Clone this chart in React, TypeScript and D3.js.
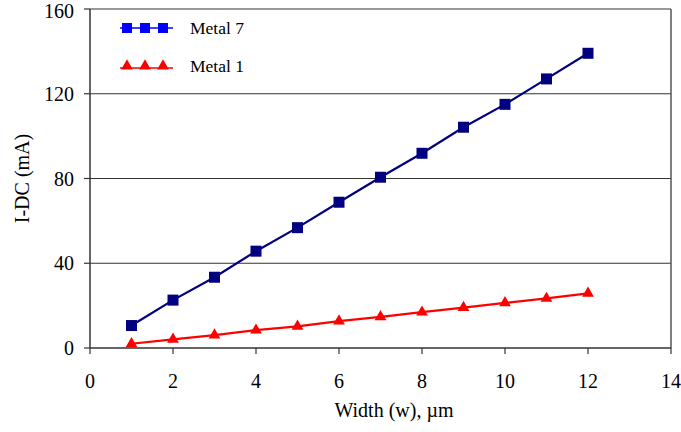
import React from "react";
import * as d3 from "d3";

const widths = [1, 2, 3, 4, 5, 6, 7, 8, 9, 10, 11, 12];
const metal7 = [10.6, 22.6, 33.4, 45.7, 56.8, 68.8, 80.6, 91.9, 104.2, 115.0, 127.0, 139.1];
const metal1 = [2.0, 4.1, 6.1, 8.4, 10.2, 12.7, 14.7, 16.9, 19.1, 21.3, 23.4, 25.8];
const xTicks = [0, 2, 4, 6, 8, 10, 12, 14];
const yTicks = [0, 40, 80, 120, 160];
const seriesNames = ["Metal 7", "Metal 1"];

const W = 681;
const H = 432;
const left = 90;
const right = 671;
const top = 9;
const bottom = 348;
const FONT = '"Liberation Serif", "DejaVu Serif", "Times New Roman", serif';

export default function App() {
  const x = d3.scaleLinear().domain([0, 14]).range([left, right]);
  const y = d3.scaleLinear().domain([0, 160]).range([bottom, top]);
  const line = d3
    .line<number>()
    .x((_, i) => x(widths[i]))
    .y((d) => y(d));
  const sq = 11;
  const tri = d3.symbol().type(d3.symbolTriangle).size(60)();
  const ts = (size: number) => ({ fontFamily: FONT, fontSize: size });

  return (
    <svg
      width={W}
      height={H}
      style={{ position: "absolute", left: 0, top: 0, background: "#fff", fontFamily: FONT }}
    >
      {yTicks.slice(1).map((t) => (
        <line key={t} x1={left} x2={right} y1={y(t)} y2={y(t)} stroke="#333" strokeWidth={1.2} />
      ))}
      <line x1={right} x2={right} y1={top} y2={bottom} stroke="#555" strokeWidth={1.5} />
      <line x1={left} x2={left} y1={top} y2={bottom} stroke="#333" strokeWidth={1.5} />
      <line x1={left} x2={right} y1={bottom} y2={bottom} stroke="#333" strokeWidth={1.5} />
      {yTicks.map((t) => (
        <g key={t}>
          <line x1={left - 6} x2={left} y1={y(t)} y2={y(t)} stroke="#333" strokeWidth={1.2} />
          <text x={74} y={Math.max(y(t), 11)} dy="0.35em" textAnchor="end" style={ts(20)} fill="#000">
            {t}
          </text>
        </g>
      ))}
      {xTicks.map((t) => (
        <g key={t}>
          <line x1={x(t)} x2={x(t)} y1={bottom} y2={bottom + 6} stroke="#333" strokeWidth={1.2} />
          <text x={x(t)} y={388} textAnchor="middle" style={ts(20)} fill="#000">
            {t}
          </text>
        </g>
      ))}
      <text x={394} y={417} textAnchor="middle" style={ts(20)} fill="#000">
        Width (w), µm
      </text>
      <text
        transform={`translate(29,${(top + bottom) / 2}) rotate(-90)`}
        textAnchor="middle"
        style={ts(20)}
        fill="#000"
      >
        I-DC (mA)
      </text>
      <path d={line(metal7) || ""} fill="none" stroke="#000080" strokeWidth={2.2} />
      {metal7.map((v, i) => (
        <rect
          key={i}
          x={x(widths[i]) - sq / 2}
          y={y(v) - sq / 2}
          width={sq}
          height={sq}
          fill="#000080"
        />
      ))}
      <path d={line(metal1) || ""} fill="none" stroke="#ff0000" strokeWidth={2.2} />
      {metal1.map((v, i) => (
        <path key={i} d={tri || ""} transform={`translate(${x(widths[i])},${y(v)})`} fill="#ff0000" />
      ))}
      <g>
        <line x1={120} x2={173} y1={28} y2={28} stroke="#0000ff" strokeWidth={1.5} />
        {[127, 145, 163].map((cx) => (
          <rect key={cx} x={cx - 5} y={23} width={10} height={10} fill="#0000ff" />
        ))}
        <text x={190} y={34} style={ts(17.5)} fill="#000">
          {seriesNames[0]}
        </text>
        <line x1={120} x2={173} y1={68} y2={68} stroke="#ff0000" strokeWidth={1.5} />
        {[127, 145, 163].map((cx) => (
          <path key={cx} d={tri || ""} transform={`translate(${cx},${66})`} fill="#ff0000" />
        ))}
        <text x={190} y={72} style={ts(17.5)} fill="#000">
          {seriesNames[1]}
        </text>
      </g>
    </svg>
  );
}
